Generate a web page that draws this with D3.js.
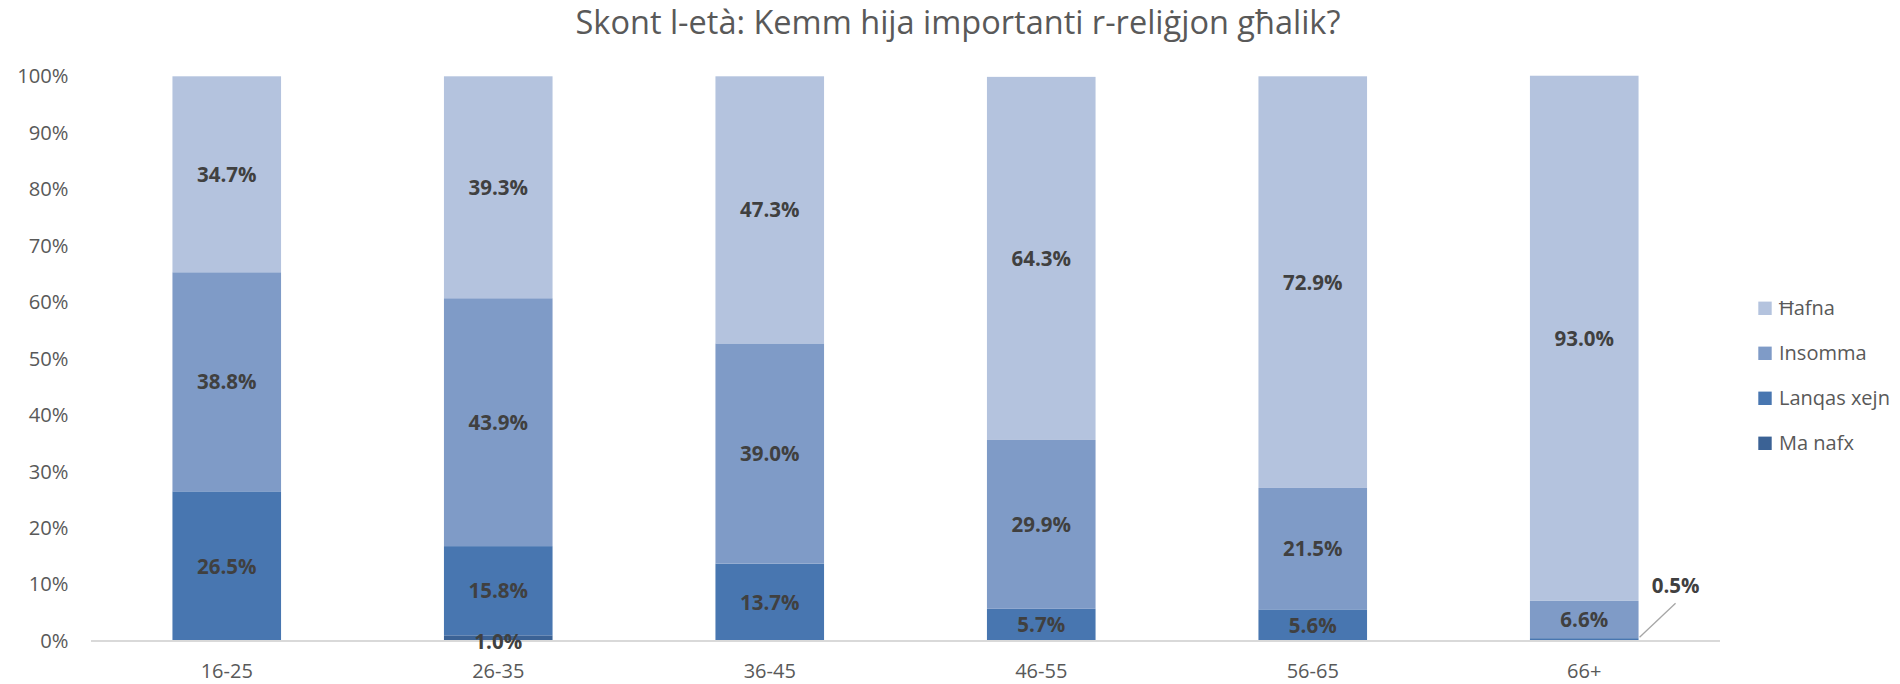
<!DOCTYPE html>
<html>
<head>
<meta charset="utf-8">
<script src="https://cdn.jsdelivr.net/npm/d3@7"></script>
<style>
  body { margin: 0; background: #fff; }
  svg { display: block; }
</style>
</head>
<body>
<svg id="chart" width="1900" height="684"></svg>
<script>
const title = "Skont l-età: Kemm hija importanti r-reliġjon għalik?";
const categories = ["16-25", "26-35", "36-45", "46-55", "56-65", "66+"];
const seriesNames = ["Ma nafx", "Lanqas xejn", "Insomma", "Ħafna"];
const maNafx     = [0, 1.0, 0, 0, 0, 0];
const lanqasXejn = [26.5, 15.8, 13.7, 5.7, 5.6, 0.5];
const insomma    = [38.8, 43.9, 39.0, 29.9, 21.5, 6.6];
const hafna      = [34.7, 39.3, 47.3, 64.3, 72.9, 93.0];
const yTicks = [0, 10, 20, 30, 40, 50, 60, 70, 80, 90, 100];
const colors = ["#3b6295", "#4876b0", "#7f9bc7", "#b4c3de"];

(function () {
const seriesValues = [maNafx, lanqasXejn, insomma, hafna];
const rows = categories.map((c, i) => {
  const r = { cat: c };
  seriesNames.forEach((s, k) => r[s] = seriesValues[k][i]);
  return r;
});

const svg = d3.select("#chart");
const font = "'Open Sans', 'Liberation Sans', sans-serif";
const plotLeft = 91, plotRight = 1720, plotTop = 76.3, plotBottom = 641;

const x = d3.scaleBand().domain(categories).range([plotLeft, plotRight]).paddingInner(0.6).paddingOuter(0.3);
const y = d3.scaleLinear().domain([0, 100]).range([plotBottom, plotTop]);

const stacked = d3.stack().keys(seriesNames)(rows);

svg.append("text")
  .attr("x", 958).attr("y", 34)
  .attr("text-anchor", "middle")
  .attr("font-family", font).attr("font-size", 32.5)
  .attr("fill", "#595959")
  .text(title);

const yAxis = d3.axisLeft(y).tickValues(yTicks).tickFormat(d => d + "%").tickSize(0).tickPadding(0);
const gy = svg.append("g").attr("transform", `translate(68.5,0)`).call(yAxis);
gy.select(".domain").remove();
gy.selectAll("text").attr("font-family", font).attr("font-size", 20.2).attr("fill", "#595959");

const layers = svg.append("g").selectAll("g").data(stacked).join("g")
  .attr("fill", (d, i) => colors[i]);
layers.selectAll("rect").data(d => d).join("rect")
  .attr("x", d => x(d.data.cat))
  .attr("width", x.bandwidth())
  .attr("y", d => y(d[1]))
  .attr("height", d => y(d[0]) - y(d[1]));

const xAxis = d3.axisBottom(x).tickSize(0).tickPadding(0);
const gx = svg.append("g").attr("transform", `translate(0,${plotBottom})`).call(xAxis);
gx.select(".domain").attr("stroke", "#d9d9d9").attr("stroke-width", 2)
  .attr("d", `M${plotLeft},0H${plotRight}`);
gx.selectAll("text").attr("font-family", font).attr("font-size", 20).attr("fill", "#595959")
  .attr("dy", "0").attr("y", 37);

const labelG = svg.append("g");
stacked.forEach((layer, k) => {
  layer.forEach((d) => {
    const v = d[1] - d[0];
    if (v <= 0) return;
    const cx = x(d.data.cat) + x.bandwidth() / 2;
    let cy = y((d[0] + d[1]) / 2);
    let tx = cx;
    if (d.data.cat === "66+" && seriesNames[k] === "Lanqas xejn") {
      const x0 = x(d.data.cat) + x.bandwidth() + 1, y0 = y(d[1]) - 1;
      tx = x0 + 36; cy = y0 - 52;
      labelG.append("line")
        .attr("x1", x0).attr("y1", y0)
        .attr("x2", x0 + 36).attr("y2", y0 - 34)
        .attr("stroke", "#a6a6a6").attr("stroke-width", 1.3);
    } else if (v < 3) {
      cy = cy + 3;
    }
    labelG.append("text")
      .attr("x", tx).attr("y", cy)
      .attr("dy", "0.36em")
      .attr("text-anchor", "middle")
      .attr("font-family", font).attr("font-weight", "bold").attr("font-size", 20.5)
      .attr("fill", "#404040")
      .text(v.toFixed(1) + "%");
  });
});

const legendOrder = ["Ħafna", "Insomma", "Lanqas xejn", "Ma nafx"];
const legendY = [308.3, 353.3, 398.3, 443.3];
const lg = svg.append("g");
legendOrder.forEach((name, i) => {
  const k = seriesNames.indexOf(name);
  lg.append("rect").attr("x", 1758.3).attr("y", legendY[i] - 6.7).attr("width", 13.4).attr("height", 13.4).attr("fill", colors[k]);
  lg.append("text").attr("x", 1779).attr("y", legendY[i]).attr("dy", "0.35em")
    .attr("font-family", font).attr("font-size", 20).attr("fill", "#595959").text(name);
});
})();
</script>
</body>
</html>
